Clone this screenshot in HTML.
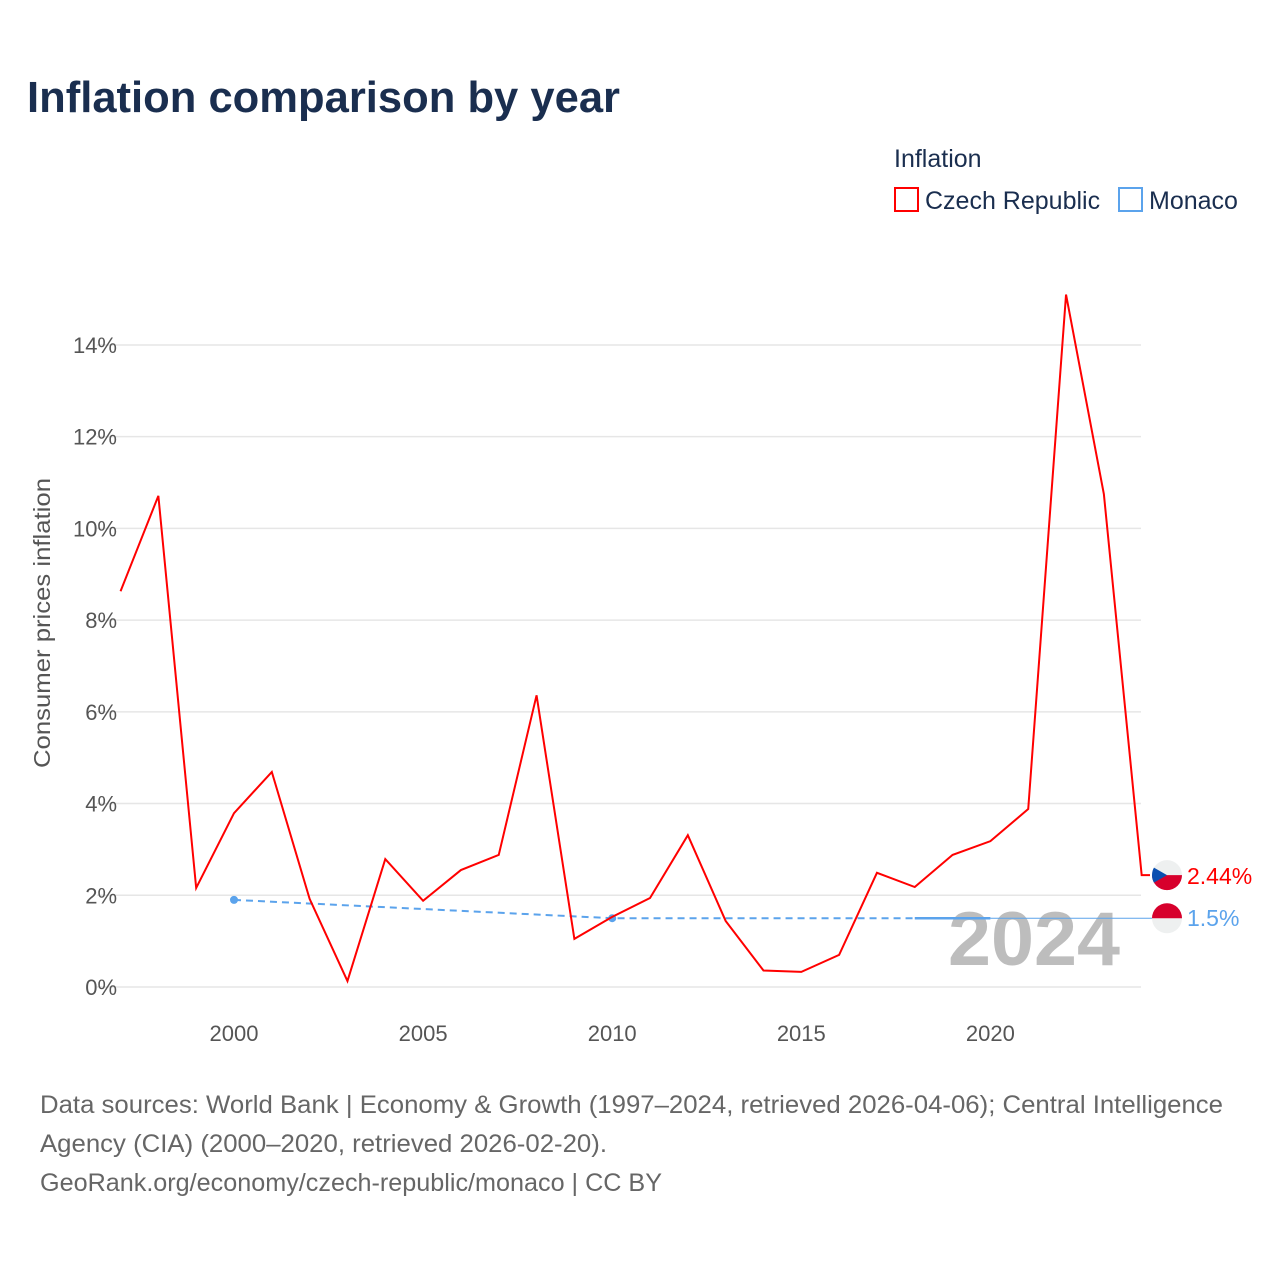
<!DOCTYPE html>
<html><head><meta charset="utf-8"><style>
body{margin:0;background:#fff;font-family:"Liberation Sans",sans-serif}
svg{display:block}
</style></head><body>
<svg id="c" width="1280" height="1280" xmlns="http://www.w3.org/2000/svg">
<text x="27" y="112" font-size="44" font-weight="bold" fill="#1a2e4f" textLength="593" lengthAdjust="spacingAndGlyphs">Inflation comparison by year</text>
<text x="894" y="167" font-size="25" fill="#1a2e4f">Inflation</text>
<g><rect x="895" y="188" width="23" height="23" fill="none" stroke="#f00" stroke-width="2"/><text x="925" y="209" font-size="25" fill="#1a2e4f">Czech Republic</text></g>
<g><rect x="1119" y="188" width="23" height="23" fill="none" stroke="#5ba3ec" stroke-width="2"/><text x="1149" y="209" font-size="25" fill="#1a2e4f">Monaco</text></g>
<text transform="translate(50,623) rotate(-90)" text-anchor="middle" font-size="23" fill="#555" textLength="290" lengthAdjust="spacingAndGlyphs">Consumer prices inflation</text>
<g id="grid"></g><g id="xt"></g>
<text x="948" y="965" font-size="76" font-weight="bold" fill="#bdbdbd" textLength="172" lengthAdjust="spacingAndGlyphs">2024</text>
<g id="series"></g>
<text x="40" y="1113" font-size="25" fill="#666" textLength="1183" lengthAdjust="spacingAndGlyphs">Data sources: World Bank | Economy &amp; Growth (1997–2024, retrieved 2026-04-06); Central Intelligence</text>
<text x="40" y="1152" font-size="25" fill="#666" textLength="567" lengthAdjust="spacingAndGlyphs">Agency (CIA) (2000–2020, retrieved 2026-02-20).</text>
<text x="40" y="1191" font-size="25" fill="#666" textLength="622" lengthAdjust="spacingAndGlyphs">GeoRank.org/economy/czech-republic/monaco | CC BY</text>
</svg>
<script>
const czYears=[1997,1998,1999,2000,2001,2002,2003,2004,2005,2006,2007,2008,2009,2010,2011,2012,2013,2014,2015,2016,2017,2018,2019,2020,2021,2022,2023,2024];
const czValues=[8.63,10.71,2.16,3.79,4.69,1.92,0.13,2.79,1.88,2.55,2.88,6.36,1.05,1.53,1.94,3.31,1.44,0.36,0.33,0.70,2.49,2.18,2.88,3.18,3.88,15.1,10.75,2.44];
const moYears=[2000,2010,2018,2019,2020];
const moValues=[1.9,1.5,1.5,1.5,1.5];
const yTicks=[0,2,4,6,8,10,12,14];
const xTicks=[2000,2005,2010,2015,2020];
const NS="http://www.w3.org/2000/svg";
const X=y=>234+(y-2000)*37.82, Y=v=>987-v*45.86;
function mk(p,t,a){const e=document.createElementNS(NS,t);for(const k in a)e.setAttribute(k,a[k]);p.appendChild(e);return e;}
const g=document.getElementById('grid'),xt=document.getElementById('xt'),s=document.getElementById('series');
yTicks.forEach(v=>{
 const l=mk(g,'line',{x1:97,x2:1141,y1:Y(v),y2:Y(v),stroke:'#e6e6e6','stroke-width':1.5});
 
 
 const t=mk(g,'text',{x:117,y:Y(v)+8,'text-anchor':'end','font-size':22,fill:'#555'});t.textContent=v+'%';
 
 
});
xTicks.forEach(v=>{
 const t=mk(xt,'text',{x:X(v),y:1041,'text-anchor':'middle','font-size':22,fill:'#555'});t.textContent=v;
 
 
});
const mi=moYears.indexOf(2018);
let d=moYears.slice(0,mi+1).map((y,i)=>(i?'L':'M')+X(y)+','+Y(moValues[i])).join('');
const md=mk(s,'path',{d:d,fill:'none',stroke:'#5ba3ec','stroke-width':2,'stroke-dasharray':'7,5'});


d=moYears.slice(mi).map((y,i)=>(i?'L':'M')+X(y)+','+Y(moValues[mi+i])).join('');
const ms=mk(s,'path',{d:d,fill:'none',stroke:'#5ba3ec','stroke-width':2.5});


const lastM=moValues[moValues.length-1];
const mc=mk(s,'line',{x1:X(moYears[moYears.length-1]),x2:1152,y1:Y(lastM),y2:Y(lastM),stroke:'#5ba3ec','stroke-width':1});


[0,1].forEach(i=>{const c=mk(s,'circle',{cx:X(moYears[i]),cy:Y(moValues[i]),r:4,fill:'#5ba3ec'});
 
 });
d=czYears.map((y,i)=>(i?'L':'M')+X(y)+','+Y(czValues[i])).join('');
const lastC=czValues[czValues.length-1];
d+='L1150,'+Y(lastC);
const cl=mk(s,'path',{d:d,fill:'none',stroke:'#f00','stroke-width':2});


function flag(cy,type){
 const gg=mk(s,'g',{});
 const cx=1167,r=15;
 mk(gg,'circle',{cx:cx,cy:cy,r:r,fill:'#eef0f0'});
 if(type==='cz'){
  mk(gg,'path',{d:`M${cx-r},${cy}A${r},${r} 0 0 0 ${cx+r},${cy}Z`,fill:'#d7002c'});
  mk(gg,'path',{d:`M${cx-r*0.87},${cy-r*0.5}L${cx},${cy}L${cx-r*0.87},${cy+r*0.5}A${r},${r} 0 0 1 ${cx-r},${cy}A${r},${r} 0 0 1 ${cx-r*0.87},${cy-r*0.5}Z`,fill:'#0a4fb0'});
 } else {
  mk(gg,'path',{d:`M${cx-r},${cy}A${r},${r} 0 0 1 ${cx+r},${cy}Z`,fill:'#d7002c'});
 }
 return gg;
}
const f1=flag(Y(lastC),'cz');


const f2=flag(Y(lastM),'mc');


const t1=mk(s,'text',{x:1187,y:Y(lastC)+9,'font-size':23,fill:'#f00'});t1.textContent=lastC+'%';


const t2=mk(s,'text',{x:1187,y:Y(lastM)+8,'font-size':23,fill:'#5ba3ec'});t2.textContent=lastM+'%';


</script>
</body></html>
